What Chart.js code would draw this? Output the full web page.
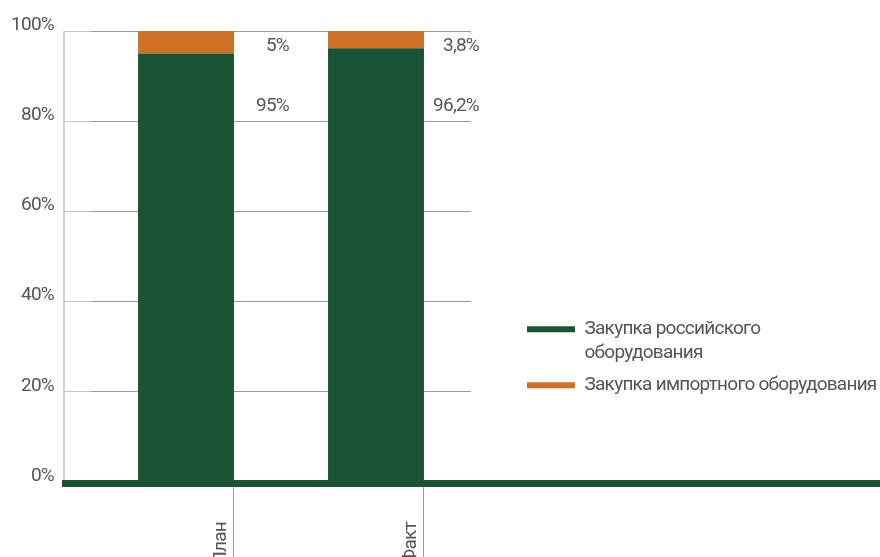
<!DOCTYPE html>
<html>
<head>
<meta charset="utf-8">
<script src="https://cdn.jsdelivr.net/npm/chart.js@4"></script>
<style>
  body { margin: 0; background: #fff; }
  #wrap { width: 880px; height: 557px; }
</style>
</head>
<body>
<div id="wrap"><canvas id="myChart" width="880" height="557"></canvas></div>
<script>
const categories = ['План', 'Факт'];
const russianShare = [95, 96.2];
const importShare = [5, 3.8];
const russianName = ['Закупка российского', 'оборудования'];
const importName = 'Закупка импортного оборудования';
const yTickStep = 20;

const GREEN = '#1b5434';
const ORANGE = '#cf7027';
const TEXT = '#555555';
const FONT = "Roboto, 'Liberation Sans', sans-serif";

Chart.defaults.font.family = FONT;
Chart.defaults.font.size = 19;
Chart.defaults.color = TEXT;

function pct(v)
{
    return String(v).replace('.', ',') + '%';
}

// the original uses a condensed face, so tighten the letters a little
const tightText = {
    id: 'tightText',
    beforeLayout(chart) { chart.ctx.letterSpacing = '-0.75px'; },
    beforeDraw(chart) { chart.ctx.letterSpacing = '-0.75px'; }
};

// axis line, thick base band, category tick lines and value labels
const decor = {
    id: 'decor',
    afterDatasetsDraw(chart)
    {
        const { ctx, scales: { x, y } } = chart;
        const y0 = y.getPixelForValue(0);
        const axisX = chart.chartArea.left - y.options.grid.tickLength;
        ctx.save();
        ctx.strokeStyle = '#c4c4c4';
        ctx.lineWidth = 1.5;
        ctx.beginPath();
        ctx.moveTo(axisX, y.getPixelForValue(100));
        ctx.lineTo(axisX, y0);
        ctx.stroke();

        ctx.fillStyle = GREEN;
        ctx.fillRect(axisX - 2, y0 - 2, chart.width - axisX + 2, 7);

        const bars = chart.getDatasetMeta(0).data;
        ctx.strokeStyle = '#9a9a9a';
        ctx.lineWidth = 1;
        ctx.font = '19px ' + FONT;
        ctx.fillStyle = TEXT;
        ctx.textAlign = 'right';
        ctx.textBaseline = 'middle';
        bars.forEach((bar, i) =>
        {
            const right = bar.x + bar.width / 2;
            ctx.beginPath();
            ctx.moveTo(right - 0.5, y0 + 5);
            ctx.lineTo(right - 0.5, chart.height);
            ctx.stroke();
            ctx.fillText(pct(importShare[i]), right + 55, y.getPixelForValue(100) + 15);
            ctx.fillText(pct(russianShare[i]), right + 55, y.getPixelForValue(80) - 15);
        });
        ctx.restore();
    }
};

const ctx = document.getElementById('myChart').getContext('2d');
const myChart = new Chart(ctx, {
    type: 'bar',
    data: {
        labels: categories,
        datasets: [
            {
                label: russianName,
                data: russianShare,
                backgroundColor: GREEN,
                borderWidth: 0,
                barPercentage: 0.505,
                categoryPercentage: 1
            },
            {
                label: importName,
                data: importShare,
                backgroundColor: ORANGE,
                borderWidth: 0,
                barPercentage: 0.505,
                categoryPercentage: 1
            }
        ]
    },
    options: {
        responsive: false,
        animation: false,
        layout: { padding: { top: 31, left: 0, right: 0, bottom: 0 } },
        scales: {
            x: {
                stacked: true,
                grid: { display: false },
                border: { display: false },
                ticks: {
                    minRotation: 90,
                    maxRotation: 90,
                    autoSkip: false,
                    padding: 32,
                    labelOffset: 35
                },
                afterFit(scale) { scale.height = 75; }
            },
            y: {
                stacked: true,
                min: 0,
                max: 100,
                border: { display: false },
                grid: {
                    color: '#9a9a9a',
                    tickColor: '#c4c4c4',
                    tickLength: 27
                },
                ticks: {
                    stepSize: yTickStep,
                    padding: 10,
                    labelOffset: -6,
                    callback: function (value)
                    {
                        return value + '%';
                    }
                },
                afterFit(scale) { scale.width = 91; }
            },
            gap: {
                position: 'right',
                display: true,
                grid: { display: false },
                border: { display: false },
                ticks: { display: false },
                afterFit(scale) { scale.width = 48; }
            }
        },
        plugins: {
            tooltip: { enabled: false },
            legend: {
                position: 'right',
                align: 'center',
                maxWidth: 361,
                title: {
                    display: true,
                    text: '',
                    font: { size: 12, lineHeight: 1.2 },
                    padding: { top: 112, bottom: 0 }
                },
                labels: {
                    boxWidth: 48,
                    boxHeight: 6,
                    padding: 8,
                    color: TEXT,
                    font: { size: 19, lineHeight: 24 / 19 }
                }
            }
        }
    },
    plugins: [tightText, decor]
});
</script>
</body>
</html>
